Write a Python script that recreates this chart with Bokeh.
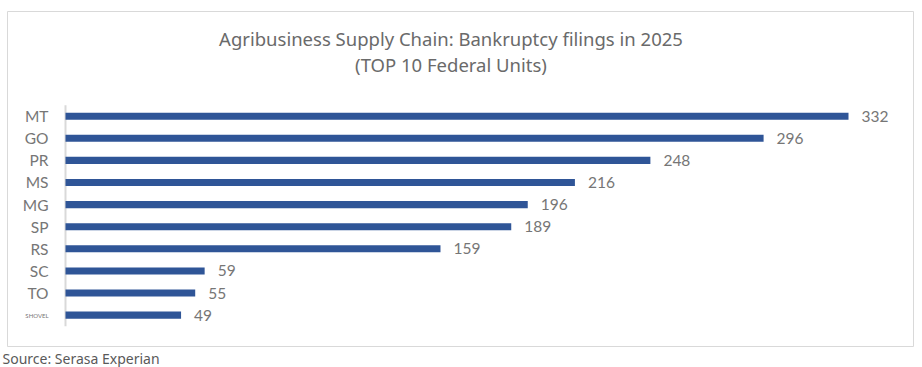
from bokeh.plotting import figure
from bokeh.models import Range1d, Label, Title, ColumnDataSource
from bokeh.core.properties import value
from bokeh.embed import file_html
from bokeh.resources import INLINE

# ---- data ----
states = ["MT", "GO", "PR", "MS", "MG", "SP", "RS", "SC", "TO", "SHOVEL"]
filings = [332, 296, 248, 216, 196, 189, 159, 59, 55, 49]
title_lines = ["Agribusiness Supply Chain: Bankruptcy filings in 2025",
               "(TOP 10 Federal Units)"]
source_text = "Source: Serasa Experian"

# ---- layout geometry (pixels inside the figure canvas) ----
W, H = 922, 367
F_LEFT, F_RIGHT, F_TOP, F_BOTTOM = 7, 913, 11, 347
ZERO_PX = 65          # x pixel of value 0
UNIT_PX = (848 - 65) / 332.0
TOP_BAR_PX = 116      # y pixel of first bar center
STEP_PX = 22.17
n = len(states)


def x_of(px):
    return (px - ZERO_PX) / UNIT_PX


def y_of(py):
    return (n - 1) - (py - TOP_BAR_PX) / STEP_PX


ys = [n - 1 - i for i in range(n)]
sizes = ["6px" if len(s) > 2 else "15.5px" for s in states]
src = ColumnDataSource(dict(state=states, filings=filings, y=ys, fs=sizes,
                            lab=[str(v) for v in filings]))

p = figure(width=W, height=H,
           x_range=Range1d(x_of(F_LEFT), x_of(F_RIGHT)),
           y_range=Range1d(y_of(F_BOTTOM), y_of(F_TOP)),
           x_axis_type=None, y_axis_type=None,
           output_backend="svg", toolbar_location=None,
           min_border_left=F_LEFT, min_border_right=W - F_RIGHT,
           min_border_top=F_TOP, min_border_bottom=H - F_BOTTOM,
           outline_line_color="#d9d9d9", outline_line_width=1,
           background_fill_color="white", border_fill_color="white")
p.grid.visible = False

grey = "#767676"
font = value("Lato")

p.segment(x0=0, x1=0, y0=-0.5, y1=n - 0.5, line_color="#d9d9d9", line_width=2)
p.hbar(y="y", left=0, right="filings", height=0.32, fill_color="#2F5597",
       line_color=None, source=src)
p.text(x=0, y="y", text="state", x_offset=-17, text_align="right",
       text_baseline="middle", text_font=font, text_font_size="fs",
       text_color=grey, source=src)
p.text(x="filings", y="y", text="lab", x_offset=13, text_align="left",
       text_baseline="middle", text_font=font, text_font_size="15.5px",
       text_color=grey, source=src)

title_x = x_of(450.5)
for line, py in zip(title_lines, [38, 64]):
    p.add_layout(Label(x=title_x, y=y_of(py), text=line, text_align="center",
                       text_baseline="alphabetic", text_font="Noto Sans",
                       text_font_size="18.5px", text_color="#6a6a6a"))

p.add_layout(Title(text=source_text, align="left", text_font="Noto Sans",
                   text_font_size="14px", text_font_style="normal",
                   text_color="#595959", offset=-5, standoff=0), "below")

open("out.html", "w").write(file_html(p, INLINE))
